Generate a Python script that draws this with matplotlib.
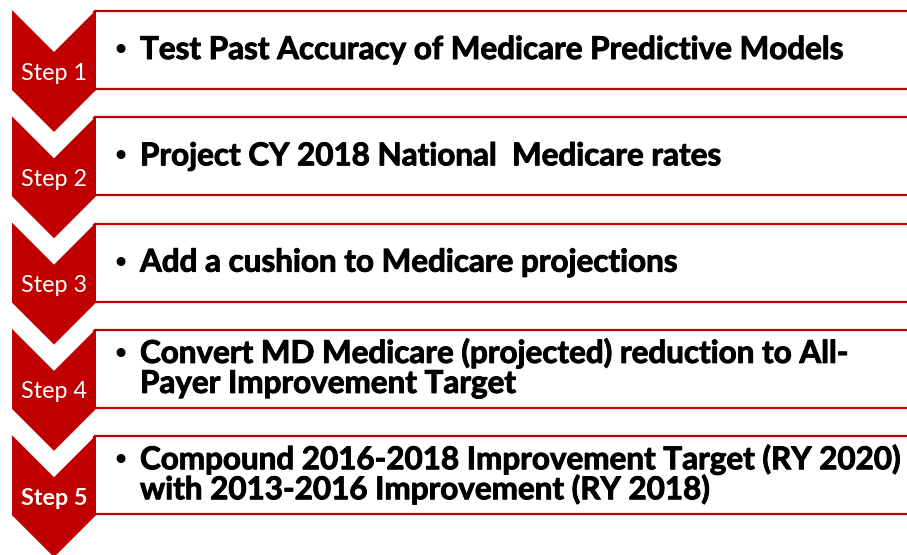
import matplotlib.pyplot as plt
import matplotlib.patheffects as pe
from matplotlib.patches import Polygon, Rectangle

# step labels and their bullet texts
step_labels = ["Step 1", "Step 2", "Step 3", "Step 4", "Step 5"]
step_texts = [
    "Test Past Accuracy of Medicare Predictive Models",
    "Project CY 2018 National  Medicare rates",
    "Add a cushion to Medicare projections",
    "Convert MD Medicare (projected) reduction to All-\nPayer Improvement Target",
    "Compound 2016-2018 Improvement Target (RY 2020)\nwith 2013-2016 Improvement (RY 2018)",
]
label_bold = [False, False, False, False, True]

RED = "#C00000"
W, H = 907, 555

fig = plt.figure(figsize=(W / 100, H / 100), dpi=100)
ax = fig.add_axes([0, 0, 1, 1])
ax.set_xlim(0, W)
ax.set_ylim(H, 0)
ax.axis("off")

x0, x1 = 12, 96      # chevron left/right
xm = (x0 + x1) / 2
pitch = 106.3
notch = 42
body = 80
heavy = [pe.withStroke(linewidth=0.7, foreground="black")]

for i, (lab, txt, bold) in enumerate(zip(step_labels, step_texts, label_bold)):
    top = 10 + i * pitch
    # box behind the chevron
    ax.add_patch(Rectangle((x1 - 2, top + 1), W + 20 - x1, body - 2, fill=False,
                           edgecolor=RED, linewidth=1.6))
    pts = [(x0, top), (xm, top + notch), (x1, top), (x1, top + body),
           (xm, top + body + notch), (x0, top + body)]
    ax.add_patch(Polygon(pts, closed=True, facecolor=RED, edgecolor="none"))

    ax.text(xm, top + 63, lab, color="white", ha="center", va="center",
            fontsize=16.8, fontweight="bold" if bold else "normal", family="Lato")

    lines = txt.split("\n")
    if len(lines) == 1:
        bases = [top + 49]
    else:
        bases = [top + 34, top + 64]
    ax.text(120, bases[0] + 1, "\u2022", ha="center", va="baseline", fontsize=22,
            family="DejaVu Sans")
    for line, yb in zip(lines, bases):
        ax.text(140, yb, line, ha="left", va="baseline", fontsize=22.6,
                fontweight="bold", family="Lato", color="black",
                path_effects=heavy)

fig.savefig("out.png", dpi=100)
